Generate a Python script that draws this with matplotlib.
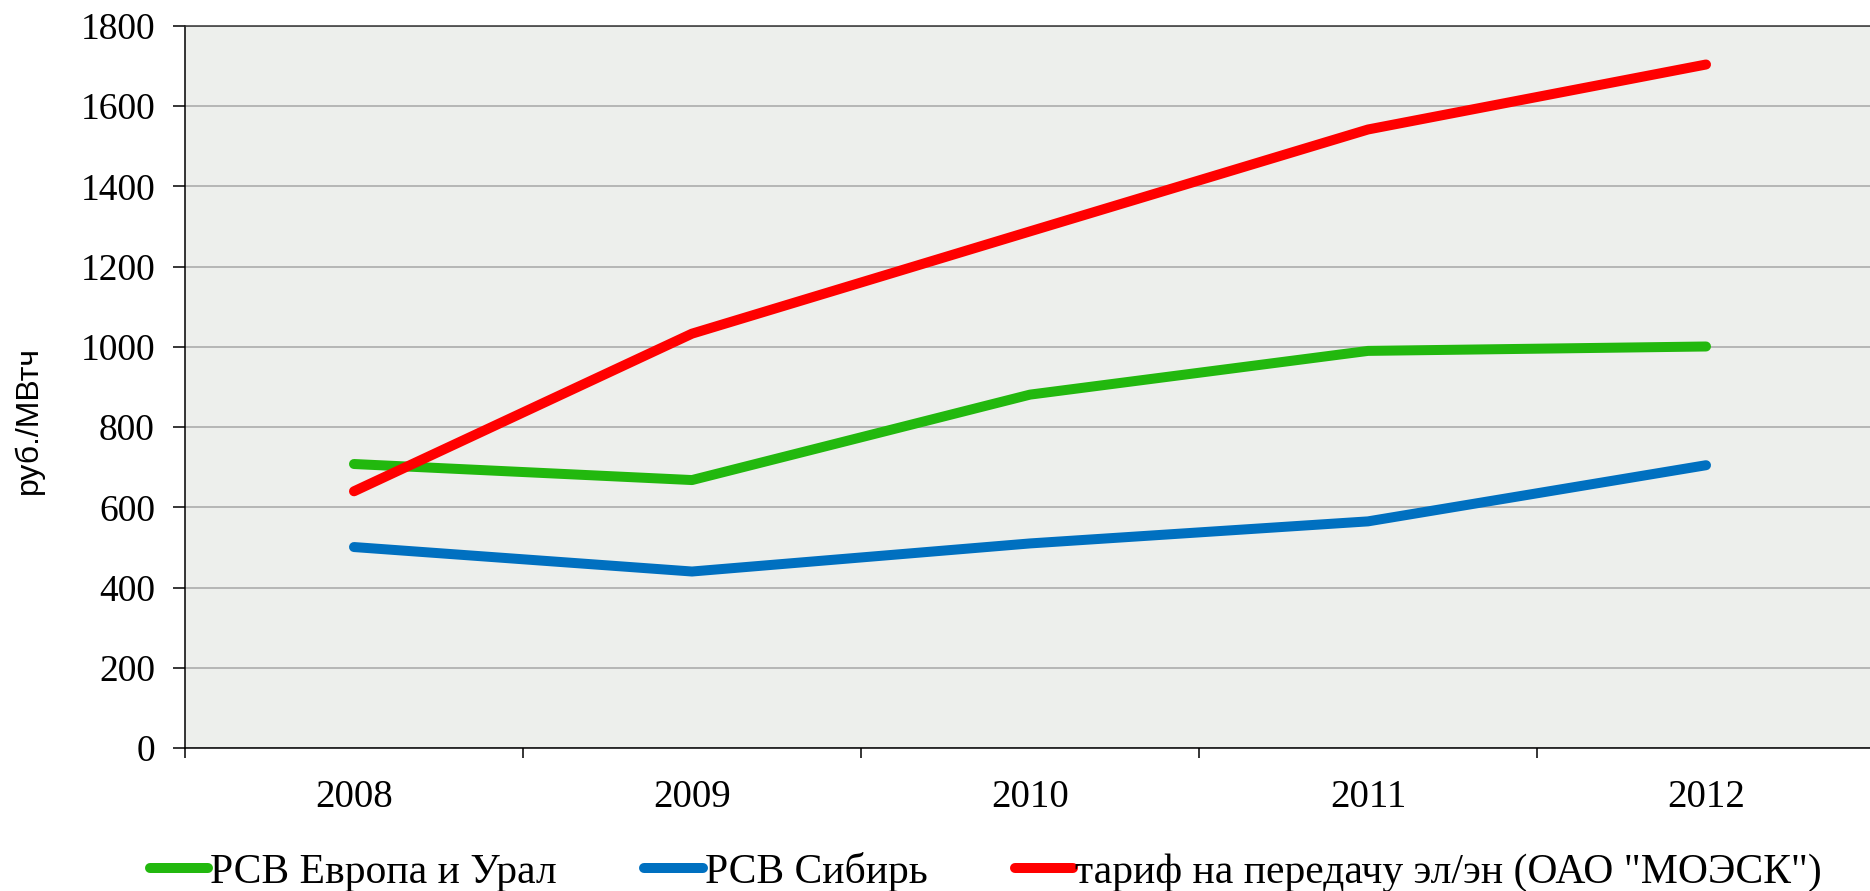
import numpy as np
import matplotlib
matplotlib.use("Agg")
import matplotlib.pyplot as plt
from matplotlib.ticker import FixedLocator

years = ["2008", "2009", "2010", "2011", "2012"]
rsv_europe = [708, 668, 881, 990, 1001]
rsv_siberia = [501, 440, 510, 565, 705]
tariff_moesk = [640, 1033, 1288, 1542, 1704]
labels = ["РСВ Европа и Урал", "РСВ Сибирь", 'тариф на передачу эл/эн (ОАО "МОЭСК")']
colors = ["#22B80E", "#0070C0", "#FF0000"]
yticks = [0, 200, 400, 600, 800, 1000, 1200, 1400, 1600, 1800]

plt.rcParams['font.family'] = ['Liberation Serif', 'DejaVu Serif']

fig = plt.figure(figsize=(18.7, 8.91), dpi=100)
ax = fig.add_axes([185/1870, 143/891, 1690/1870, 722/891])
ax.set_facecolor("#EDEFEC")

x = np.arange(len(years))
for series, lab, c in zip([rsv_europe, rsv_siberia, tariff_moesk], labels, colors):
    ax.plot(x, series, color=c, lw=7.2, solid_capstyle='round', solid_joinstyle='round', label=lab)

ax.set_xlim(-0.5, len(years) - 0.5)
ax.set_ylim(0, 1800)
ax.set_yticks(yticks)
ax.set_yticklabels([str(v) for v in yticks], fontsize=27)
ax.set_xticks(x)
ax.set_xticklabels(years, fontsize=28)
ax.xaxis.set_minor_locator(FixedLocator(np.arange(-0.5, len(years), 1.0)))
ax.tick_params(axis='x', which='major', length=0, pad=22)
ax.tick_params(axis='x', which='minor', length=7.5, width=1.1, direction='out')
ax.tick_params(axis='y', length=8.6, width=1.1, direction='out', pad=13)

ax.grid(axis='y', color="#A6A6A6", lw=1.1)
ax.set_axisbelow(True)
for s in ['left', 'bottom', 'top']:
    ax.spines[s].set_color('black')
    ax.spines[s].set_linewidth(1.1)
ax.spines['top'].set_color('#333333')
ax.spines['right'].set_visible(False)

fig.text(29/1870, 1 - 420/891, "руб./МВтч", rotation=90, ha='center', va='center',
         fontsize=23, family=['Liberation Sans', 'DejaVu Sans'])

fig.legend(loc='center', bbox_to_anchor=(986/1870, 1 - 872/891), ncol=3, frameon=False,
           fontsize=30, handlelength=1.4, handletextpad=0.05, columnspacing=2.1,
           borderaxespad=0)

fig.savefig("out.png", dpi=100, facecolor='white')
